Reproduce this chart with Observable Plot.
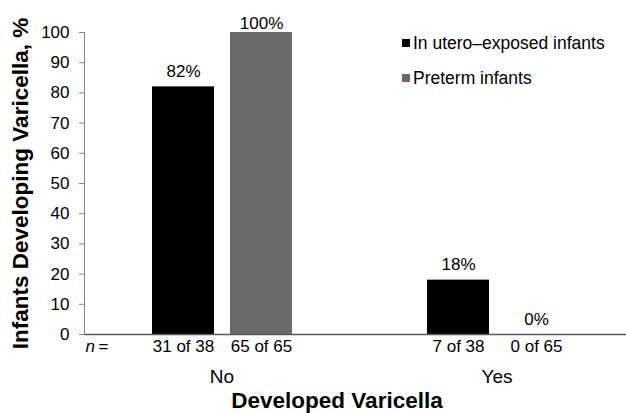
<!DOCTYPE html>
<html><head><meta charset="utf-8">
<script src="https://cdn.jsdelivr.net/npm/d3@7"></script>
<script src="https://cdn.jsdelivr.net/npm/@observablehq/plot@0.6"></script>
<style>
body{margin:0;background:#fff;font-family:"Liberation Sans",Arial,sans-serif;}
#wrap{position:relative;width:626px;height:413px;overflow:hidden;}
#wrap svg [aria-label="y-axis label"] text, #wrap svg [aria-label="y-axis label"]{font-weight:bold;font-size:22.5px;}
#wrap svg [aria-label="y-axis tick label"]{font-size:17px;}
#wrap svg [aria-label="fx-axis tick label"]{font-size:19px;}
#xtitle{position:absolute;left:0;top:388px;width:626px;padding-left:48px;box-sizing:border-box;text-align:center;font-weight:bold;font-size:22.5px;line-height:25px;}
#legend{position:absolute;left:402px;top:31px;font-size:17.5px;}
#legend .item{display:flex;align-items:center;height:24px;margin-bottom:11px;}
#legend .sw{width:8px;height:8px;margin-right:3px;}
</style></head><body><div id="wrap"></div>
<script>
const groups = ["No", "Yes"];
const series = ["In utero–exposed infants", "Preterm infants"];
const inUteroValues = [82, 18];
const pretermValues = [100, 0];
const inUteroN = ["31 of 38", "7 of 38"];
const pretermN = ["65 of 65", "0 of 65"];
const yTicks = [0, 10, 20, 30, 40, 50, 60, 70, 80, 90, 100];
const colors = ["#000000", "#696969"];
const yTitle = "Infants Developing Varicella, %";
const xTitle = "Developed Varicella";

const rows = groups.flatMap((g, i) => [
  {group: g, series: series[0], value: inUteroValues[i], n: inUteroN[i]},
  {group: g, series: series[1], value: pretermValues[i], n: pretermN[i]}
]);

const font = "'Liberation Sans', Arial, sans-serif";
const chart = Plot.plot({
  width: 626, height: 388,
  marginLeft: 83, marginRight: 0, marginTop: 32, marginBottom: 54,
  style: {fontFamily: font, fontSize: "17px", color: "#000", background: "#fff", overflow: "visible"},
  fx: {domain: groups, range: [83, 634], padding: 0, label: null},
  x: {domain: series, range: [151, 292], paddingInner: 0.2, paddingOuter: 0, axis: null},
  y: {domain: [0, 100], range: [334, 32]},
  color: {domain: series, range: colors},
  marks: [
    Plot.barY(rows, {fx: "group", x: "series", y: "value", fill: "series"}),
    Plot.ruleY([0], {stroke: "#595959", strokeWidth: 1.3}),
    Plot.frame({anchor: "left", facetAnchor: "left", stroke: "#868686"}),
    Plot.text(rows, {fx: "group", x: "series", y: d => Math.min(d.value + 5, 103), text: d => d.value + "%", fontSize: 17, fill: "#000"}),
    Plot.text(rows, {fx: "group", x: "series", y: () => 0, text: "n", lineAnchor: "top", dy: 5, fontSize: 17, fill: "#000"}),
    Plot.text(["No"], {fx: d => d, y: () => 0, frameAnchor: "left", text: () => "n", fontStyle: "italic", textAnchor: "start", dx: 1, lineAnchor: "top", dy: 5, fontSize: 17, fill: "#000"}),
    Plot.text(["No"], {fx: d => d, y: () => 0, frameAnchor: "left", text: () => "=", textAnchor: "start", dx: 14, lineAnchor: "top", dy: 5, fontSize: 17, fill: "#000"}),
    Plot.axisY({ticks: yTicks, tickSize: 5, tickPadding: 10, stroke: "#868686", fill: "#000", fontSize: 17,
      label: yTitle, labelAnchor: "center", labelOffset: 72, labelArrow: "none"}),
    Plot.axisFx({anchor: "bottom", tickSize: 0, tickPadding: 35, fontSize: 19, fill: "#000", label: null})
  ]
});
const wrap = document.getElementById("wrap");
wrap.appendChild(chart);
const xt = document.createElement("div");
xt.id = "xtitle"; xt.textContent = xTitle; wrap.appendChild(xt);
const lg = document.createElement("div");
lg.id = "legend";
series.forEach((s, i) => {
  const it = document.createElement("div"); it.className = "item";
  const sw = document.createElement("span"); sw.className = "sw"; sw.style.background = colors[i];
  const tx = document.createElement("span"); tx.textContent = s;
  it.appendChild(sw); it.appendChild(tx); lg.appendChild(it);
});
wrap.appendChild(lg);
</script></body></html>
